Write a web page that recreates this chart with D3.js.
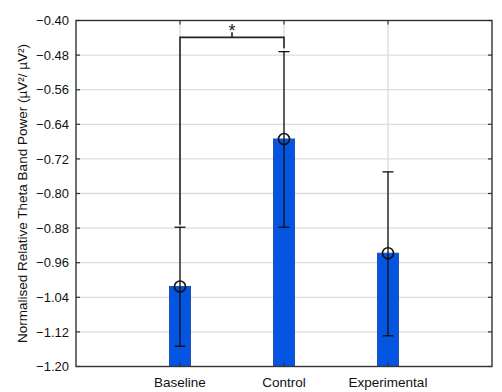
<!DOCTYPE html>
<html>
<head>
<meta charset="utf-8">
<script src="https://cdn.jsdelivr.net/npm/d3@7"></script>
<style>
  html, body { margin: 0; padding: 0; background: #fff; }
  svg { display: block; font-family: "Liberation Sans", Arial, sans-serif; }
</style>
</head>
<body>
<svg id="chart" width="502" height="392"></svg>
<script>
// Group means and error-bar limits of relative theta band power
const categories = ["Baseline", "Control", "Experimental"];
const means = [-1.015, -0.674, -0.938];
const upperErr = [-0.878, -0.472, -0.750];
const lowerErr = [-1.153, -0.878, -1.129];
const yTicks = [-0.40, -0.48, -0.56, -0.64, -0.72, -0.80, -0.88, -0.96, -1.04, -1.12, -1.20];
// Significant pairwise comparison (indices into categories)
const sigPairs = [[0, 1, "*"]];

const svg = d3.select("#chart");
const m = { left: 76, right: 10, top: 20.5, bottom: 25.5 };
const W = 502, H = 392;
const x0 = m.left, x1 = W - m.right, y0 = m.top, y1 = H - m.bottom;

const x = d3.scaleLinear().domain([0, categories.length + 1]).range([x0, x1]);
const y = d3.scaleLinear().domain([-1.20, -0.40]).range([y1, y0]);

const g = svg.append("g");

// horizontal gridlines
g.append("g").selectAll("line").data(yTicks.slice(1, -1)).join("line")
  .attr("x1", x0).attr("x2", x1)
  .attr("y1", d => y(d)).attr("y2", d => y(d))
  .attr("stroke", "#dcdcdc").attr("stroke-width", 1.3);

// vertical gridlines at category positions
g.append("g").selectAll("line").data(categories).join("line")
  .attr("x1", (d, i) => x(i + 1)).attr("x2", (d, i) => x(i + 1))
  .attr("y1", y0).attr("y2", y1)
  .attr("stroke", "#dcdcdc").attr("stroke-width", 1.3);

// bars
const barW = 21;
g.append("g").selectAll("rect").data(means).join("rect")
  .attr("x", (d, i) => x(i + 1) - barW / 2)
  .attr("width", barW)
  .attr("y", d => y(d))
  .attr("height", d => y1 - y(d))
  .attr("fill", "#0455e2")
  .attr("stroke", "#2a4fb0")
  .attr("stroke-width", 1);

// error bars
const capW = 11;
const eb = g.append("g").attr("stroke", "#111").attr("stroke-width", 1.3).attr("fill", "none");
categories.forEach((c, i) => {
  const cx = x(i + 1);
  eb.append("line").attr("x1", cx).attr("x2", cx).attr("y1", y(upperErr[i])).attr("y2", y(lowerErr[i]));
  eb.append("line").attr("x1", cx - capW / 2).attr("x2", cx + capW / 2).attr("y1", y(upperErr[i])).attr("y2", y(upperErr[i]));
  eb.append("line").attr("x1", cx - capW / 2).attr("x2", cx + capW / 2).attr("y1", y(lowerErr[i])).attr("y2", y(lowerErr[i]));
  eb.append("circle").attr("cx", cx).attr("cy", y(means[i])).attr("r", 5.5).attr("stroke-width", 1.6);
});

// significance bracket
const bracketY = y(-0.439);
sigPairs.forEach(([a, b, label]) => {
  const xa = x(a + 1), xb = x(b + 1);
  const br = g.append("g").attr("stroke", "#222").attr("stroke-width", 1.6).attr("fill", "none");
  br.append("path").attr("d",
    `M${xa},${y(upperErr[a]) - 2.5}V${bracketY}H${xb}V${y(upperErr[b]) - 3.5}`);
  br.append("line").attr("x1", (xa + xb) / 2).attr("x2", (xa + xb) / 2)
    .attr("y1", bracketY).attr("y2", bracketY - 5);
  g.append("text").attr("x", (xa + xb) / 2).attr("y", bracketY - 0.5)
    .attr("text-anchor", "middle").attr("font-size", 18).attr("fill", "#222").text(label);
});

// frame
const axisColor = "#333";
g.append("rect").attr("x", x0).attr("y", y0).attr("width", x1 - x0).attr("height", y1 - y0)
  .attr("fill", "none").attr("stroke", axisColor).attr("stroke-width", 1.4);

// inward ticks on left and right
const tk = 4;
g.append("g").selectAll("line").data(yTicks).join("line")
  .attr("x1", x0).attr("x2", x0 + tk).attr("y1", d => y(d)).attr("y2", d => y(d))
  .attr("stroke", axisColor).attr("stroke-width", 1.2);
g.append("g").selectAll("line").data(yTicks).join("line")
  .attr("x1", x1).attr("x2", x1 - tk).attr("y1", d => y(d)).attr("y2", d => y(d))
  .attr("stroke", axisColor).attr("stroke-width", 1.2);
// inward ticks on top and bottom
g.append("g").selectAll("line").data(categories).join("line")
  .attr("x1", (d, i) => x(i + 1)).attr("x2", (d, i) => x(i + 1))
  .attr("y1", y1).attr("y2", y1 - tk).attr("stroke", axisColor).attr("stroke-width", 1.2);
g.append("g").selectAll("line").data(categories).join("line")
  .attr("x1", (d, i) => x(i + 1)).attr("x2", (d, i) => x(i + 1))
  .attr("y1", y0).attr("y2", y0 + tk).attr("stroke", axisColor).attr("stroke-width", 1.2);

// tick labels
const fmt = d3.format(".2f");
g.append("g").selectAll("text").data(yTicks).join("text")
  .attr("x", x0 - 7).attr("y", d => y(d)).attr("dy", "0.36em")
  .attr("text-anchor", "end").attr("font-size", 13).attr("fill", "#111")
  .text(d => fmt(d).replace("-", "\u2212"));
g.append("g").selectAll("text").data(categories).join("text")
  .attr("x", (d, i) => x(i + 1)).attr("y", y1 + 20)
  .attr("text-anchor", "middle").attr("font-size", 13.5).attr("fill", "#111")
  .text(d => d);

// y axis title
g.append("text")
  .attr("transform", `translate(27,${(y0 + y1) / 2}) rotate(-90)`)
  .attr("text-anchor", "middle").attr("font-size", 13.5).attr("fill", "#111")
  .text("Normalised Relative Theta Band Power (\u00B5V\u00B2/ \u00B5V\u00B2)");
</script>
</body>
</html>
